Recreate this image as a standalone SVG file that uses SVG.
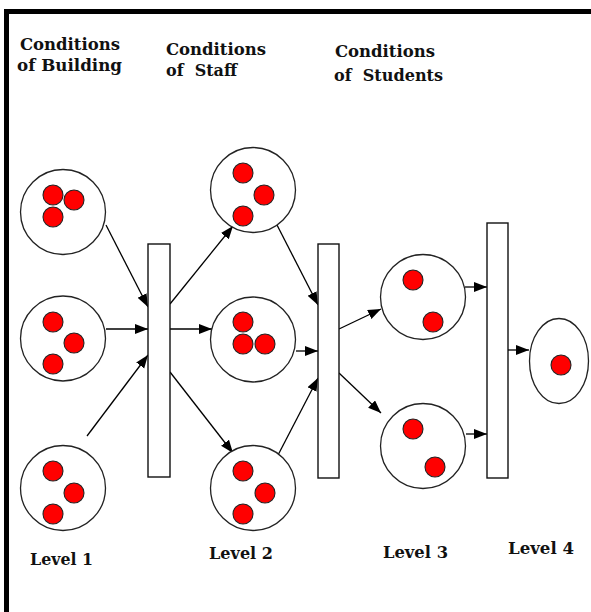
<svg xmlns="http://www.w3.org/2000/svg" width="591" height="612" viewBox="0 0 591 612">
  <defs>
    <marker id="arrow" markerUnits="userSpaceOnUse" markerWidth="14" markerHeight="11" refX="13" refY="5" orient="auto">
      <path d="M0,0 L13,5 L0,10 z" fill="#000"/>
    </marker>
  </defs>
  <style>
    .place { fill: #fff; stroke: #222; stroke-width: 1.3; }
    .token { fill: #ff0000; stroke: #222; stroke-width: 1.1; }
    .bar { fill: #fff; stroke: #111; stroke-width: 1.4; }
    .edge { fill: none; stroke: #000; stroke-width: 1.3; }
    .arr { marker-end: url(#arrow); }
    text { font-family: "DejaVu Serif", "Liberation Serif", serif; font-weight: bold; font-size: 17px; fill: #111; }
  </style>

  <rect x="0" y="0" width="591" height="612" fill="#fff"/>
  <!-- frame (top and left edges) -->
  <rect x="4" y="9" width="587" height="5" fill="#000"/>
  <rect x="4" y="9" width="5" height="603" fill="#000"/>

  <!-- column headings -->
  <g id="heading-building">
    <text x="20" y="50" textLength="100" lengthAdjust="spacingAndGlyphs">Conditions</text>
    <text x="17" y="71" textLength="105" lengthAdjust="spacingAndGlyphs">of Building</text>
  </g>
  <g id="heading-staff">
    <text x="166" y="55" textLength="100" lengthAdjust="spacingAndGlyphs">Conditions</text>
    <text x="166" y="76" textLength="71" lengthAdjust="spacingAndGlyphs" xml:space="preserve">of  Staff</text>
  </g>
  <g id="heading-students">
    <text x="335" y="57" textLength="100" lengthAdjust="spacingAndGlyphs">Conditions</text>
    <text x="334" y="81" textLength="109" lengthAdjust="spacingAndGlyphs" xml:space="preserve">of  Students</text>
  </g>

  <!-- connectors -->
  <g id="connectors">
    <line class="edge arr" x1="106" y1="225" x2="148" y2="307"/>
    <line class="edge arr" x1="106" y1="329" x2="148" y2="329"/>
    <line class="edge arr" x1="87" y1="436" x2="148" y2="355"/>

    <line class="edge arr" x1="170" y1="304" x2="233" y2="226"/>
    <line class="edge arr" x1="170" y1="329" x2="212" y2="329"/>
    <line class="edge arr" x1="170" y1="372" x2="233" y2="453"/>

    <line class="edge arr" x1="277" y1="225" x2="318" y2="305"/>
    <line class="edge arr" x1="296" y1="351" x2="318" y2="351"/>
    <line class="edge arr" x1="277" y1="457" x2="318" y2="378"/>

    <line class="edge arr" x1="339" y1="329" x2="381" y2="309"/>
    <line class="edge arr" x1="339" y1="373" x2="381" y2="413"/>

    <line class="edge arr" x1="465" y1="287" x2="487" y2="287"/>
    <line class="edge arr" x1="466" y1="434" x2="487" y2="434"/>

    <line class="edge arr" x1="508" y1="350" x2="529" y2="350"/>
  </g>

  <!-- level 1 places -->
  <g id="place-building-1">
    <circle class="place" cx="63" cy="212" r="42.5"/>
    <circle class="token" cx="53" cy="195" r="10"/>
    <circle class="token" cx="74" cy="200" r="10"/>
    <circle class="token" cx="53" cy="217" r="10"/>
  </g>
  <g id="place-building-2">
    <circle class="place" cx="63" cy="338.5" r="42.5"/>
    <circle class="token" cx="53" cy="322" r="10"/>
    <circle class="token" cx="74" cy="343" r="10"/>
    <circle class="token" cx="53" cy="364" r="10"/>
  </g>
  <g id="place-building-3">
    <circle class="place" cx="63" cy="488" r="42.5"/>
    <circle class="token" cx="53" cy="471" r="10"/>
    <circle class="token" cx="74" cy="493" r="10"/>
    <circle class="token" cx="53" cy="514" r="10"/>
  </g>

  <g id="transition-1">
    <rect class="bar" x="148" y="244" width="22" height="233"/>
  </g>

  <!-- level 2 places -->
  <g id="place-staff-1">
    <circle class="place" cx="253" cy="190" r="42.5"/>
    <circle class="token" cx="243" cy="173" r="10"/>
    <circle class="token" cx="264" cy="195" r="10"/>
    <circle class="token" cx="243" cy="216" r="10"/>
  </g>
  <g id="place-staff-2">
    <circle class="place" cx="253" cy="339.5" r="42.5"/>
    <circle class="token" cx="243" cy="322" r="10"/>
    <circle class="token" cx="243" cy="344" r="10"/>
    <circle class="token" cx="265" cy="344" r="10"/>
  </g>
  <g id="place-staff-3">
    <circle class="place" cx="253" cy="488" r="42.5"/>
    <circle class="token" cx="243" cy="471" r="10"/>
    <circle class="token" cx="265" cy="493" r="10"/>
    <circle class="token" cx="243" cy="514" r="10"/>
  </g>

  <g id="transition-2">
    <rect class="bar" x="318" y="244" width="21" height="234"/>
  </g>

  <!-- level 3 places -->
  <g id="place-students-1">
    <circle class="place" cx="423" cy="297" r="42.5"/>
    <circle class="token" cx="413" cy="280" r="10"/>
    <circle class="token" cx="433" cy="322" r="10"/>
  </g>
  <g id="place-students-2">
    <circle class="place" cx="423" cy="446" r="42.5"/>
    <circle class="token" cx="413" cy="429" r="10"/>
    <circle class="token" cx="435" cy="467" r="10"/>
  </g>

  <g id="transition-3">
    <rect class="bar" x="487" y="223" width="21" height="255"/>
  </g>

  <!-- level 4 place -->
  <g id="place-outcome">
    <ellipse class="place" cx="559" cy="361" rx="29.5" ry="42.5"/>
    <circle class="token" cx="561" cy="365" r="10"/>
  </g>

  <!-- level labels -->
  <g id="labels">
    <text x="30" y="565" textLength="63" lengthAdjust="spacingAndGlyphs">Level 1</text>
    <text x="209" y="559" textLength="64" lengthAdjust="spacingAndGlyphs">Level 2</text>
    <text x="383" y="558" textLength="65" lengthAdjust="spacingAndGlyphs">Level 3</text>
    <text x="508" y="554" textLength="66" lengthAdjust="spacingAndGlyphs">Level 4</text>
  </g>
</svg>
